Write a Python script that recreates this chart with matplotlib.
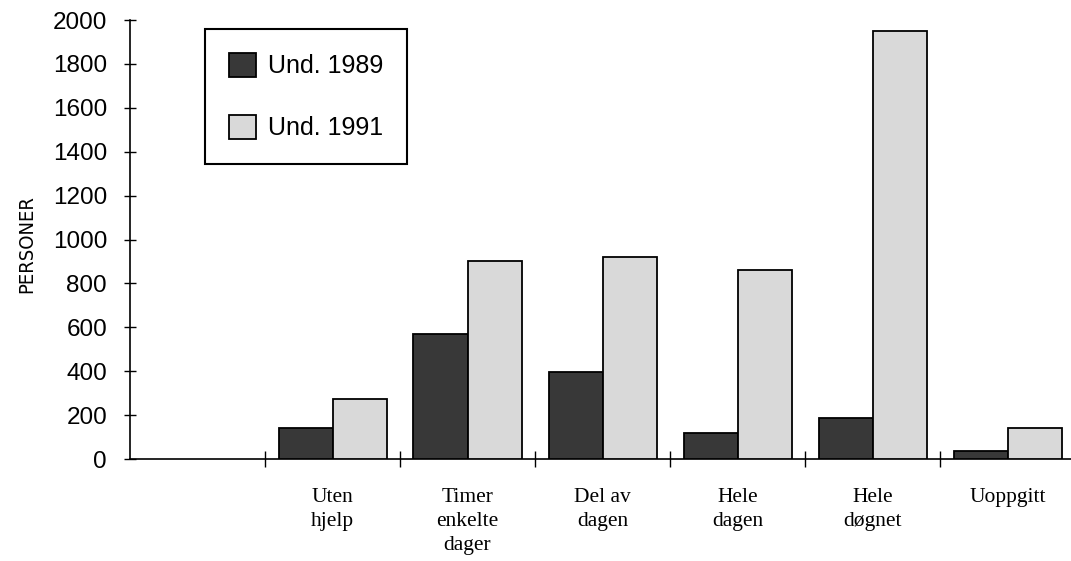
import numpy as np
import matplotlib
matplotlib.use("Agg")
import matplotlib.pyplot as plt
from matplotlib.ticker import FixedLocator, NullFormatter

# Data
categories = ["Uten\nhjelp", "Timer\nenkelte\ndager", "Del av\ndagen",
              "Hele\ndagen", "Hele\ndøgnet", "Uoppgitt"]
und_1989 = [140, 570, 395, 120, 185, 35]
und_1991 = [273, 900, 918, 860, 1950, 143]
series_labels = ["Und. 1989", "Und. 1991"]
y_ticks = list(range(0, 2001, 200))

W, H = 1071, 561
fig = plt.figure(figsize=(W / 100, H / 100), dpi=100)
fig.patch.set_facecolor("white")

left, right, top, bottom = 130, 1075, 20, 459
ax = fig.add_axes([left / W, 1 - bottom / H, (right - left) / W, (bottom - top) / H])
ax.set_facecolor("white")

n_slots = len(categories) + 1          # first slot is left empty
centers = np.arange(len(categories)) + 1.5
bw = 0.4

ax.bar(centers - bw / 2, und_1989, width=bw, color="#383838",
       edgecolor="black", linewidth=1.3, label=series_labels[0], zorder=3)
ax.bar(centers + bw / 2, und_1991, width=bw, color="#d9d9d9",
       edgecolor="black", linewidth=1.3, label=series_labels[1], zorder=3)

ax.set_xlim(0, n_slots)
ax.set_ylim(0, 2000)

for s in ["top", "right"]:
    ax.spines[s].set_visible(False)
for s in ["left", "bottom"]:
    ax.spines[s].set_linewidth(1.2)
    ax.spines[s].set_color("black")

# y axis
ax.set_yticks(y_ticks)
ax.set_yticklabels([str(v) for v in y_ticks], fontsize=17.5,
                   family="Liberation Sans")
ax.tick_params(axis="y", direction="inout", length=9, width=1.0, pad=12)

# x axis: boundary ticks without labels, labels at slot centers
ax.xaxis.set_major_locator(FixedLocator(np.arange(1, n_slots)))
ax.xaxis.set_major_formatter(NullFormatter())
ax.xaxis.set_minor_locator(FixedLocator(centers))
ax.set_xticklabels(categories, minor=True, fontsize=15.5,
                   family="Liberation Serif", linespacing=1.36)
ax.tick_params(axis="x", which="major", direction="inout", length=11, width=1.0)
ax.tick_params(axis="x", which="minor", length=0, pad=21)
for lab in ax.get_xticklabels(minor=True):
    lab.set_verticalalignment("top")

ax.set_ylabel("PERSONER", fontsize=14.5, family="DejaVu Sans",
              fontstretch="condensed")
ax.yaxis.set_label_coords(-(130 - 36) / (right - left), 0.49)

leg = ax.legend(loc="upper left",
                bbox_to_anchor=(205 / W, 1 - 29 / H),
                bbox_transform=fig.transFigure,
                prop={"family": "Liberation Sans", "size": 18},
                frameon=True, fancybox=False, shadow=False,
                handlelength=1.1, handleheight=1.1, labelspacing=1.45,
                borderpad=0.95, handletextpad=0.45, borderaxespad=0)
leg.get_frame().set_edgecolor("black")
leg.get_frame().set_linewidth(1.5)
leg.get_frame().set_alpha(1)

fig.savefig("out.png", dpi=100, facecolor="white")
